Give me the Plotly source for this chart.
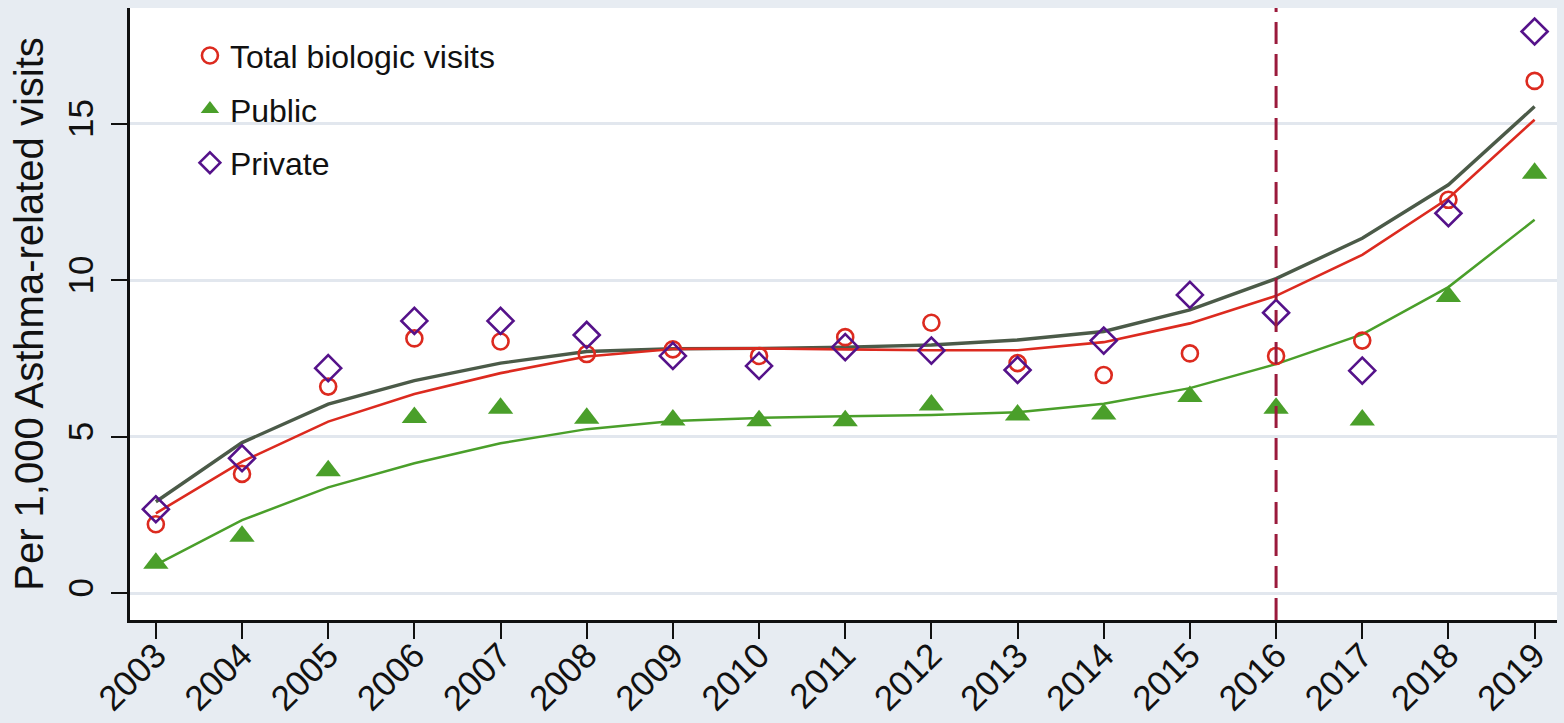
import plotly.graph_objects as go

years = list(range(2003, 2020))
year_labels = [str(y) for y in years]

total_pts = [2.20, 3.81, 6.60, 8.14, 8.04, 7.64, 7.79, 7.58, 8.18, 8.64, 7.35, 6.97, 7.66, 7.58, 8.07, 12.57, 16.37]
public_pts = [0.95, 1.82, 3.91, 5.61, 5.91, 5.59, 5.53, 5.51, 5.51, 6.01, 5.69, 5.72, 6.28, 5.91, 5.53, 9.48, 13.42]
private_pts = [2.68, 4.31, 7.19, 8.70, 8.70, 8.25, 7.58, 7.26, 7.86, 7.75, 7.13, 8.07, 9.53, 8.96, 7.11, 12.14, 17.95]

total_fit = [2.55, 4.20, 5.48, 6.36, 7.03, 7.56, 7.80, 7.82, 7.79, 7.76, 7.76, 8.02, 8.62, 9.50, 10.81, 12.62, 15.13]
public_fit = [0.90, 2.33, 3.38, 4.15, 4.79, 5.24, 5.50, 5.60, 5.65, 5.69, 5.78, 6.05, 6.55, 7.32, 8.27, 9.78, 11.93]
private_fit = [2.92, 4.81, 6.04, 6.79, 7.35, 7.72, 7.81, 7.82, 7.86, 7.93, 8.09, 8.36, 9.05, 10.05, 11.34, 13.05, 15.55]

y_ticks = [0, 5, 10, 15]
cutoff_year = 2016

RED = "#dc2a1f"
GREEN = "#4a9f2a"
PURPLE = "#55128a"
DARK = "#4b5a48"
MAROON = "#9a1a3c"

fig = go.Figure()

# fitted lines
fig.add_trace(go.Scatter(x=years, y=public_fit, mode="lines",
                         line=dict(color=GREEN, width=2.5), showlegend=False, hoverinfo="skip"))
fig.add_trace(go.Scatter(x=years, y=private_fit, mode="lines",
                         line=dict(color=DARK, width=3.4), showlegend=False, hoverinfo="skip"))
fig.add_trace(go.Scatter(x=years, y=total_fit, mode="lines",
                         line=dict(color=RED, width=2.6), showlegend=False, hoverinfo="skip"))

# points
fig.add_trace(go.Scatter(x=years, y=total_pts, mode="markers", name="Total biologic visits",
                         legendgroup="a",
                         marker=dict(symbol="circle-open", size=16, color=RED, line=dict(width=2.6, color=RED))))
fig.add_trace(go.Scatter(x=years, y=public_pts, mode="markers", name="Public",
                         legendgroup="b",
                         marker=dict(symbol="triangle-up", size=22, color=GREEN, line=dict(width=0))))
fig.add_trace(go.Scatter(x=years, y=private_pts, mode="markers", name="Private",
                         legendgroup="c",
                         marker=dict(symbol="diamond-open", size=20, color=PURPLE, line=dict(width=2.6, color=PURPLE))))

fig.add_vline(x=cutoff_year, line=dict(color=MAROON, width=3, dash="22px,10px"))

fig.update_layout(
    width=1564, height=723,
    margin=dict(l=130, r=7, t=8, b=103, autoexpand=False),
    paper_bgcolor="#e7ecf2",
    plot_bgcolor="#ffffff",
    font=dict(family="Liberation Sans, Arial, sans-serif", color="#111111"),
    legend=dict(x=0.042, y=0.967, xanchor="left", yanchor="top",
                bgcolor="rgba(0,0,0,0)", font=dict(size=32),
                tracegroupgap=9, itemsizing="trace"),
    showlegend=True,
)

fig.update_xaxes(
    range=[2002.70, 2019.26],
    tickmode="array", tickvals=years, ticktext=year_labels,
    tickangle=-45, tickfont=dict(size=35),
    ticks="outside", ticklen=16, tickwidth=2, tickcolor="#111111",
    ticklabelstandoff=-18,
    showline=True, linecolor="#111111", linewidth=2.5,
    showgrid=False, zeroline=False, automargin=False,
)
fig.update_yaxes(
    range=[-0.86, 18.7],
    tickmode="array", tickvals=y_ticks, ticktext=[str(v) for v in y_ticks],
    tickangle=-90, tickfont=dict(size=35),
    ticks="outside", ticklen=16, tickwidth=2, tickcolor="#111111",
    ticklabelstandoff=4,
    showline=True, linecolor="#111111", linewidth=2.5,
    showgrid=True, gridcolor="#e2e7ee", gridwidth=2.5,
    zeroline=False, automargin=False,
    title=dict(text="Per 1,000 Asthma-related visits", font=dict(size=40), standoff=6),
)

fig.write_html("out.html")
